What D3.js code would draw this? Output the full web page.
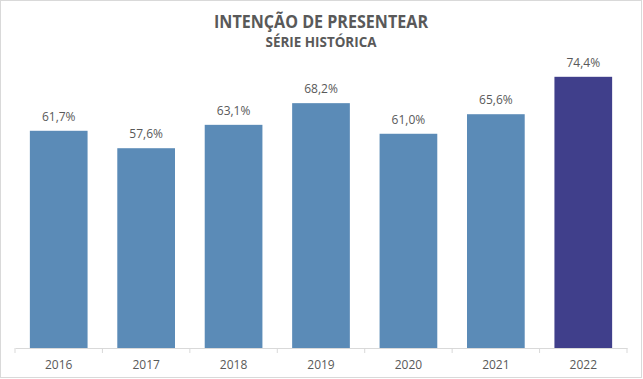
<!DOCTYPE html>
<html><head><meta charset="utf-8">
<script src="https://cdn.jsdelivr.net/npm/d3@7"></script>
<style>body{margin:0;background:#fff;}</style>
</head><body>
<svg id="c" width="643" height="379"></svg>
<script>
const years = ["2016","2017","2018","2019","2020","2021","2022"];
const values = [61.7, 57.6, 63.1, 68.2, 61.0, 65.6, 74.4];
const barColors = ["#5b8bb7","#5b8bb7","#5b8bb7","#5b8bb7","#5b8bb7","#5b8bb7","#403f8b"];
const title = "INTENÇÃO DE PRESENTEAR";
const subtitle = "SÉRIE HISTÓRICA";

const svg = d3.select("#c");
svg.append("rect").attr("x",0.5).attr("y",0.5).attr("width",641).attr("height",377)
  .attr("fill","#fff").attr("stroke","#d9d9d9");

const baseY = 348;
const x = d3.scaleBand().domain(years).range([15, 627]).paddingInner(0.34).paddingOuter(0.17);
const y = d3.scaleLinear().domain([10.6, 80]).range([baseY, 53]);

svg.append("text").attr("x",321).attr("y",28).attr("text-anchor","middle")
  .attr("font-family","Open Sans").attr("font-weight","bold").attr("font-size",18)
  .attr("textLength",214).attr("lengthAdjust","spacingAndGlyphs")
  .attr("fill","#595959").text(title);
svg.append("text").attr("x",321).attr("y",47).attr("text-anchor","middle")
  .attr("font-family","Open Sans").attr("font-weight","bold").attr("font-size",14)
  .attr("textLength",111).attr("lengthAdjust","spacingAndGlyphs")
  .attr("fill","#595959").text(subtitle);

svg.selectAll("rect.bar").data(values).enter().append("rect").attr("class","bar")
  .attr("x",(d,i)=>x(years[i])).attr("width",x.bandwidth())
  .attr("y",d=>y(d)).attr("height",d=>baseY-y(d))
  .attr("fill",(d,i)=>barColors[i]);

const fmt = v => v.toFixed(1).replace(".", ",") + "%";
svg.selectAll("text.lbl").data(values).enter().append("text").attr("class","lbl")
  .attr("x",(d,i)=>x(years[i])+x.bandwidth()/2).attr("y",d=>y(d)-10)
  .attr("text-anchor","middle").attr("font-family","Open Sans").attr("font-size",12)
  .attr("fill","#595959").text(fmt);

const axis = d3.axisBottom(x).tickSize(0).tickPadding(12);
const g = svg.append("g").attr("transform",`translate(0,${baseY})`).call(axis);
g.select(".domain").attr("stroke","#d9d9d9");
g.selectAll("text").attr("font-family","Open Sans").attr("font-size",12).attr("fill","#595959");
const step = x.step();
const bounds = d3.range(years.length+1).map(i => x(years[0]) - x.paddingOuter()*step + i*step);
g.selectAll("line.b").data(bounds).enter().append("line").attr("class","b")
  .attr("x1",d=>d).attr("x2",d=>d).attr("y1",0).attr("y2",5).attr("stroke","#d9d9d9");
</script>
</body></html>
